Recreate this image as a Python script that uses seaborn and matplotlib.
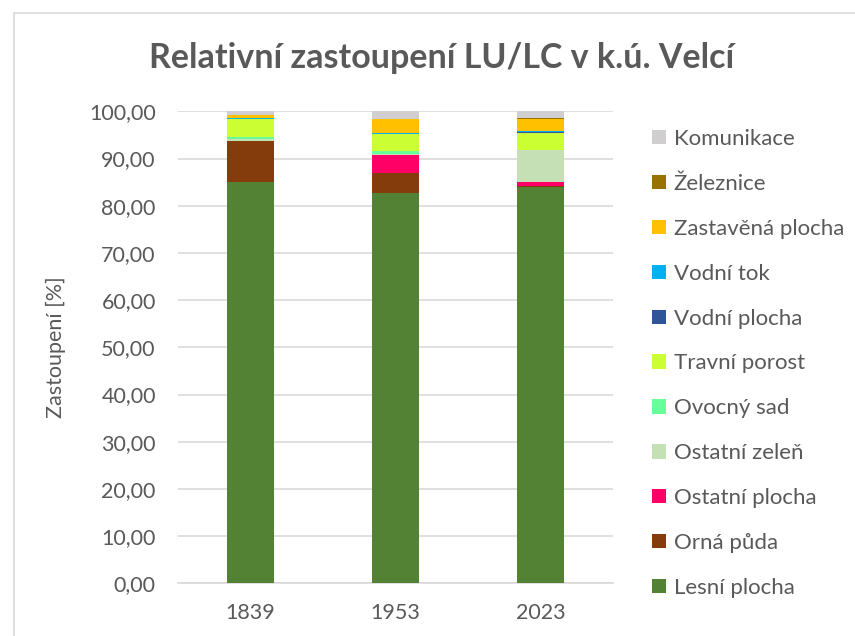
import matplotlib
matplotlib.use("Agg")
import matplotlib.pyplot as plt
from matplotlib.patches import Patch, Rectangle
from matplotlib.ticker import FuncFormatter, MultipleLocator
import numpy as np
import pandas as pd
import seaborn as sns

# Land-use / land-cover shares (%) per survey year
years = ["1839", "1953", "2023"]
lesni_plocha = [85.1, 82.6, 84.0]
orna_puda = [8.6, 4.3, 0.1]
ostatni_plocha = [0.0, 3.8, 0.95]
ostatni_zelen = [0.4, 0.2, 6.85]
ovocny_sad = [0.4, 0.6, 0.0]
travni_porost = [3.9, 3.7, 3.5]
vodni_plocha = [0.0, 0.05, 0.3]
vodni_tok = [0.1, 0.2, 0.15]
zastavena_plocha = [0.8, 2.85, 2.6]
zeleznice = [0.0, 0.1, 0.05]
komunikace = [0.7, 1.6, 1.5]

# stacking order, bottom to top
categories = ["Lesní plocha", "Orná půda", "Ostatní plocha", "Ostatní zeleň",
              "Ovocný sad", "Travní porost", "Vodní plocha", "Vodní tok",
              "Zastavěná plocha", "Železnice", "Komunikace"]
series = [lesni_plocha, orna_puda, ostatni_plocha, ostatni_zelen, ovocny_sad,
          travni_porost, vodni_plocha, vodni_tok, zastavena_plocha, zeleznice,
          komunikace]
colors = ["#548235", "#843C0C", "#FF0066", "#C5E0B4", "#66FF99", "#CCFF33",
          "#2F5597", "#00B0F0", "#FFC000", "#997300", "#D0CECE"]

sns.set_theme(style="white")
plt.rcParams["font.family"] = ["Lato", "DejaVu Sans"]

text_color = "#595959"
grid_color = "#D9D9D9"

fig = plt.figure(figsize=(8.55, 6.36), dpi=100)
W, H = 855, 636
ax = fig.add_axes([178 / W, 1 - 583.3 / H, (613 - 178) / W, (583.3 - 111.3) / H])

df = pd.DataFrame({"year": years})
bottom = np.zeros(len(years))
for name, vals, col in zip(categories, series, colors):
    df["value"] = vals
    sns.barplot(data=df, x="year", y="value", color=col, width=0.32,
                bottom=bottom, ax=ax, saturation=1, linewidth=0, zorder=3)
    bottom = bottom + np.array(vals)

ax.set_xlim(-0.5, 2.5)
ax.set_ylim(0, 100)
ax.yaxis.set_major_locator(MultipleLocator(10))
ax.yaxis.set_major_formatter(FuncFormatter(lambda v, p: f"{v:.2f}".replace(".", ",")))
ax.grid(axis="y", color=grid_color, linewidth=1.2, zorder=0)
ax.set_axisbelow(True)
for side in ["top", "right", "left"]:
    ax.spines[side].set_visible(False)
ax.spines["bottom"].set_color(grid_color)
ax.spines["bottom"].set_linewidth(1.2)
ax.tick_params(axis="both", length=0, labelsize=15.5, colors=text_color)
ax.tick_params(axis="y", pad=16)
ax.tick_params(axis="x", pad=14)
ax.set_xlabel("")
ax.set_ylabel("Zastoupení [%]", fontsize=15.5, color=text_color)
ax.yaxis.set_label_coords((66 - 178) / 435, 0.5)

fig.text(442 / W, 1 - 58 / H, "Relativní zastoupení LU/LC v k.ú. Velcí",
         ha="center", va="center", fontsize=24.5, fontweight="bold", color=text_color)

# legend lists the categories in a fixed order, top to bottom
legend_order = ["Komunikace", "Železnice", "Zastavěná plocha", "Vodní tok",
                "Vodní plocha", "Travní porost", "Ovocný sad", "Ostatní zeleň",
                "Ostatní plocha", "Orná půda", "Lesní plocha"]
color_of = dict(zip(categories, colors))
handles = [Patch(facecolor=color_of[c], edgecolor="none") for c in legend_order]
leg = fig.legend(handles, legend_order, loc="upper left",
                 bbox_to_anchor=(652 / W, 1 - 129 / H), frameon=False,
                 fontsize=16, labelcolor=text_color, handlelength=0.62,
                 handleheight=0.62, handletextpad=0.35, labelspacing=1.12,
                 borderaxespad=0, borderpad=0)

# chart frame
fig.add_artist(Rectangle((14 / W, -0.01), 1.0, 1 - 13 / H + 0.01,
                         transform=fig.transFigure, fill=False,
                         edgecolor=grid_color, linewidth=1.2))

fig.savefig("out.png", dpi=100, facecolor="white")
